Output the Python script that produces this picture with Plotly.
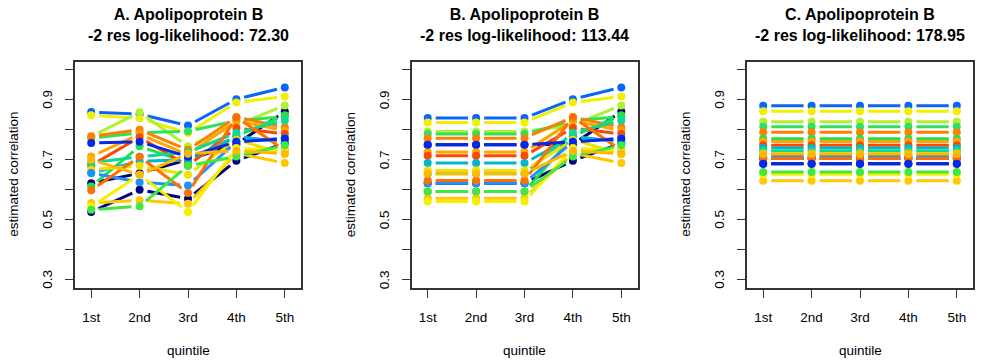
import math
import plotly.graph_objects as go

# Estimated correlations per quintile, one entry per study, under three covariance models
quintiles = ["1st", "2nd", "3rd", "4th", "5th"]
series_colors = [
    "#000070", "#000080",
    "#0A64FF", "#F0F000", "#B0F030", "#30E060", "#FF8000",
    "#20E050", "#FFA500", "#FF4500", "#00B8C8", "#10D890",
    "#F0E000", "#1E90FF", "#FF7000", "#0528E8",
    "#FFC800", "#F5F000", "#40E840", "#FFB800",
]

# Model A: fully unstructured, one estimate per quintile
a_q1 = [0.622, 0.526,
        0.859, 0.848, 0.778, 0.772, 0.778, 0.611, 0.711, 0.681, 0.656, 0.690,
        0.667, 0.656, 0.598, 0.756, 0.556, 0.544, 0.533, 0.700]
a_q2 = [0.655, 0.600,
        0.852, 0.838, 0.858, 0.790, 0.800, 0.745, 0.785, 0.775, 0.695, 0.710,
        0.680, 0.625, 0.710, 0.760, 0.565, 0.650, 0.545, 0.650]
a_q3 = [0.700, 0.570,
        0.814, 0.789, 0.745, 0.795, 0.733, 0.690, 0.717, 0.680, 0.700, 0.725,
        0.650, 0.614, 0.589, 0.710, 0.553, 0.526, 0.680, 0.720]
a_q4 = [0.752, 0.697,
        0.902, 0.891, 0.815, 0.830, 0.842, 0.778, 0.830, 0.806, 0.778, 0.790,
        0.767, 0.760, 0.842, 0.760, 0.722, 0.739, 0.711, 0.730]
a_q5 = [0.861, 0.755,
        0.941, 0.911, 0.881, 0.844, 0.808, 0.848, 0.797, 0.786, 0.759, 0.831,
        0.719, 0.772, 0.732, 0.770, 0.689, 0.730, 0.748, 0.720]

# Model B: common value over quintiles 1-3, quintiles 4-5 as in model A
b_q123 = [0.750, 0.622,
          0.839, 0.824, 0.794, 0.786, 0.772, 0.594, 0.726, 0.713, 0.689, 0.653,
          0.664, 0.622, 0.631, 0.750, 0.572, 0.561, 0.594, 0.653]

# Model C: a single correlation per study across all quintiles
c_all = [0.704, 0.687,
         0.880, 0.862, 0.827, 0.810, 0.792, 0.770, 0.761, 0.748, 0.739, 0.729,
         0.721, 0.711, 0.704, 0.687, 0.630, 0.652, 0.659, 0.719]

titles = [
    "A. Apolipoprotein B<br>-2 res log-likelihood: 72.30",
    "B. Apolipoprotein B<br>-2 res log-likelihood: 113.44",
    "C. Apolipoprotein B<br>-2 res log-likelihood: 178.95",
]

yticks = [0.3, 0.4, 0.5, 0.6, 0.7, 0.8, 0.9, 1.0]
ylabels = ["0.3", "", "0.5", "", "0.7", "", "0.9", ""]

W, H = 987, 362
FONT = "Liberation Sans, Arial, sans-serif"
AX = "#333333"
panel_px = [(75, 301), (411.5, 637.5), (747, 973)]
y_px = (61.5, 288.0)
x_range = [0.665, 5.335]
y_range = [0.2725, 1.0275]
gap_px = 8.0

ux = (panel_px[0][1] - panel_px[0][0]) / (x_range[1] - x_range[0])
uy = (y_px[1] - y_px[0]) / (y_range[1] - y_range[0])


def gapped(xs, ys):
    """Segments between successive points, shortened at both ends (R type='b')."""
    gx, gy = [], []
    for i in range(len(xs) - 1):
        dx = (xs[i + 1] - xs[i]) * ux
        dy = (ys[i + 1] - ys[i]) * uy
        d = math.hypot(dx, dy)
        if d <= 2 * gap_px:
            continue
        fx, fy = gap_px * dx / d / ux, gap_px * dy / d / uy
        gx += [xs[i] + fx, xs[i + 1] - fx, None]
        gy += [ys[i] + fy, ys[i + 1] - fy, None]
    return gx, gy


panels = []
n = len(series_colors)
panels.append([[a_q1[i], a_q2[i], a_q3[i], a_q4[i], a_q5[i]] for i in range(n)])
panels.append([[b_q123[i]] * 3 + [a_q4[i], a_q5[i]] for i in range(n)])
panels.append([[c_all[i]] * 5 for i in range(n)])

fig = go.Figure()
xpos = [1, 2, 3, 4, 5]
for p, rows in enumerate(panels):
    xa = "x" if p == 0 else f"x{p + 1}"
    ya = "y" if p == 0 else f"y{p + 1}"
    for i, vals in enumerate(rows):
        lx, ly = gapped(xpos, vals)
        fig.add_trace(go.Scatter(x=lx, y=ly, mode="lines", xaxis=xa, yaxis=ya,
                                 line=dict(color=series_colors[i], width=3),
                                 hoverinfo="skip", showlegend=False))
        fig.add_trace(go.Scatter(x=xpos, y=vals, mode="markers", xaxis=xa, yaxis=ya,
                                 marker=dict(color=series_colors[i], size=8, line=dict(width=0)),
                                 showlegend=False))

ydom = [1 - y_px[1] / H, 1 - y_px[0] / H]

layout = dict(
    width=W, height=H, autosize=False,
    margin=dict(l=0, r=0, t=0, b=0),
    paper_bgcolor="white", plot_bgcolor="white",
    font=dict(family=FONT, size=13, color="#000000"),
    annotations=[],
)
for p in range(3):
    sfx = "" if p == 0 else str(p + 1)
    x0, x1 = panel_px[p]
    layout["xaxis" + sfx] = dict(
        domain=[x0 / W, x1 / W], range=x_range, anchor="y" + sfx,
        tickvals=xpos, ticktext=quintiles, ticks="outside", ticklen=8,
        tickwidth=1.3, tickcolor=AX, showline=True, linecolor=AX, linewidth=1.5,
        mirror=True, showgrid=False, zeroline=False, ticklabelstandoff=8,
        tickfont=dict(size=13.5, family=FONT),
    )
    # y tick marks from the axis; their labels are placed as rotated text below
    layout["yaxis" + sfx] = dict(
        domain=ydom, range=y_range, anchor="x" + sfx,
        tickvals=yticks, showticklabels=False, ticks="outside", ticklen=8,
        tickwidth=1.3, tickcolor=AX, showline=True, linecolor=AX, linewidth=1.5,
        mirror=True, showgrid=False, zeroline=False,
    )
    for v, lab in zip(yticks, ylabels):
        if lab:
            layout["annotations"].append(dict(
                text=lab, x=(x0 - 27) / W, y=v, xref="paper", yref="y" + sfx,
                showarrow=False, textangle=-90, xanchor="center", yanchor="middle",
                font=dict(size=13.5, family=FONT)))
    cx = (x0 + x1) / 2 / W
    layout["annotations"] += [
        dict(text="<b>" + titles[p] + "</b>", x=cx, y=1 - 25.5 / H, xref="paper", yref="paper",
             showarrow=False, xanchor="center", yanchor="middle",
             font=dict(size=16, family=FONT, color="#000000")),
        dict(text="quintile", x=cx, y=1 - 350 / H, xref="paper", yref="paper",
             showarrow=False, xanchor="center", yanchor="middle",
             font=dict(size=13.5, family=FONT)),
        dict(text="estimated correlation", x=(x0 - 61) / W, y=1 - (sum(y_px) / 2) / H,
             xref="paper", yref="paper", showarrow=False, textangle=-90,
             xanchor="center", yanchor="middle", font=dict(size=13.5, family=FONT)),
    ]

fig.update_layout(**layout)
fig.write_html("out.html")
